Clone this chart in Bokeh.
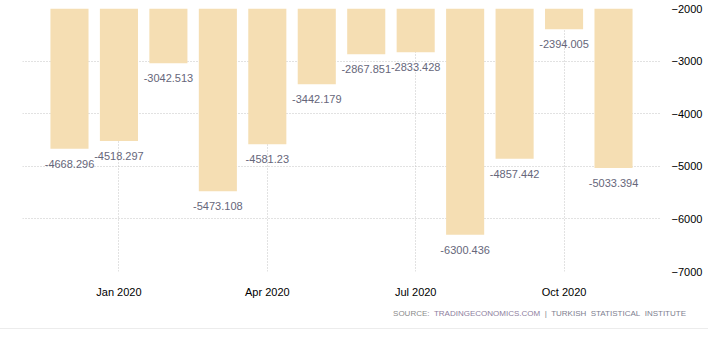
from bokeh.plotting import figure
from bokeh.models import FixedTicker, ColumnDataSource, Div
from bokeh.layouts import column
from bokeh.core.properties import value
from bokeh.embed import file_html
from bokeh.resources import INLINE

months = ["Dec 2019", "Jan 2020", "Feb 2020", "Mar 2020", "Apr 2020", "May 2020",
          "Jun 2020", "Jul 2020", "Aug 2020", "Sep 2020", "Oct 2020", "Nov 2020"]
values = [-4668.296, -4518.297, -3042.513, -5473.108, -4581.23, -3442.179,
          -2867.851, -2833.428, -6300.436, -4857.442, -2394.005, -5033.394]
tick_labels = ["Jan 2020", "Apr 2020", "Jul 2020", "Oct 2020"]
y_ticks = [-2000, -3000, -4000, -5000, -6000, -7000]
source_parts = ["SOURCE:", "TRADINGECONOMICS.COM", "|  TURKISH  STATISTICAL  INSTITUTE"]

FONT = "Liberation Sans"

idx = list(range(len(months)))
src = ColumnDataSource(dict(x=idx, top=[-2000] * len(values), bottom=values,
                            label=[str(v) for v in values]))

p = figure(width=708, height=300, output_backend="svg", toolbar_location=None,
           x_range=(-0.95, 11.95), y_range=(-7000, -2000),
           y_axis_location="right",
           min_border_left=22, min_border_right=48, min_border_top=8, min_border_bottom=28)
p.outline_line_color = None
p.background_fill_color = "white"
p.border_fill_color = "white"

p.vbar(x="x", top="top", bottom="bottom", width=0.77, source=src,
       fill_color="#F5DEB3", line_color=None)
p.text(x="x", y="bottom", text="label", source=src, text_align="center",
       text_baseline="middle", y_offset=15, text_font=value(FONT),
       text_font_size="11px", text_color="#66667a")

tick_pos = [months.index(t) for t in tick_labels]
p.xaxis.ticker = FixedTicker(ticks=tick_pos)
p.xaxis.major_label_overrides = {pos: lab for pos, lab in zip(tick_pos, tick_labels)}
p.yaxis.ticker = FixedTicker(ticks=y_ticks)
for ax in (p.xaxis, p.yaxis):
    ax.axis_line_color = None
    ax.major_tick_line_color = None
    ax.minor_tick_line_color = None
    ax.major_label_text_font = FONT
    ax.major_label_text_font_size = "11px"
    ax.major_label_text_color = "#000000"
p.xaxis.major_label_standoff = 8
p.yaxis.major_label_standoff = 5

for g in (p.xgrid, p.ygrid):
    g.grid_line_color = "#c4c4c4"
    g.grid_line_dash = "1 2"
    g.grid_line_width = 1
p.xgrid.ticker = FixedTicker(ticks=tick_pos)
p.ygrid.ticker = FixedTicker(ticks=y_ticks)

colors = ["#8a8a8a", "#8e7e9e", "#7e8090"]
spans = "&nbsp;&nbsp;".join(
    f'<span style="color:{c}">{t.replace("  ", "&nbsp;&nbsp;")}</span>'
    for t, c in zip(source_parts, colors))
html = (
    '<div style="position:relative;width:708px;height:29px;'
    'border-bottom:1px solid #ececec;box-sizing:border-box;">'
    f'<div style="position:absolute;right:22px;top:8px;font-family:\'{FONT}\';'
    f'font-size:8px;line-height:12px;white-space:nowrap;">{spans}</div></div>'
)
bottom = Div(text=html, width=708, height=50, margin=0)

layout = column(p, bottom, spacing=0)
open("out.html", "w").write(file_html(layout, INLINE))
